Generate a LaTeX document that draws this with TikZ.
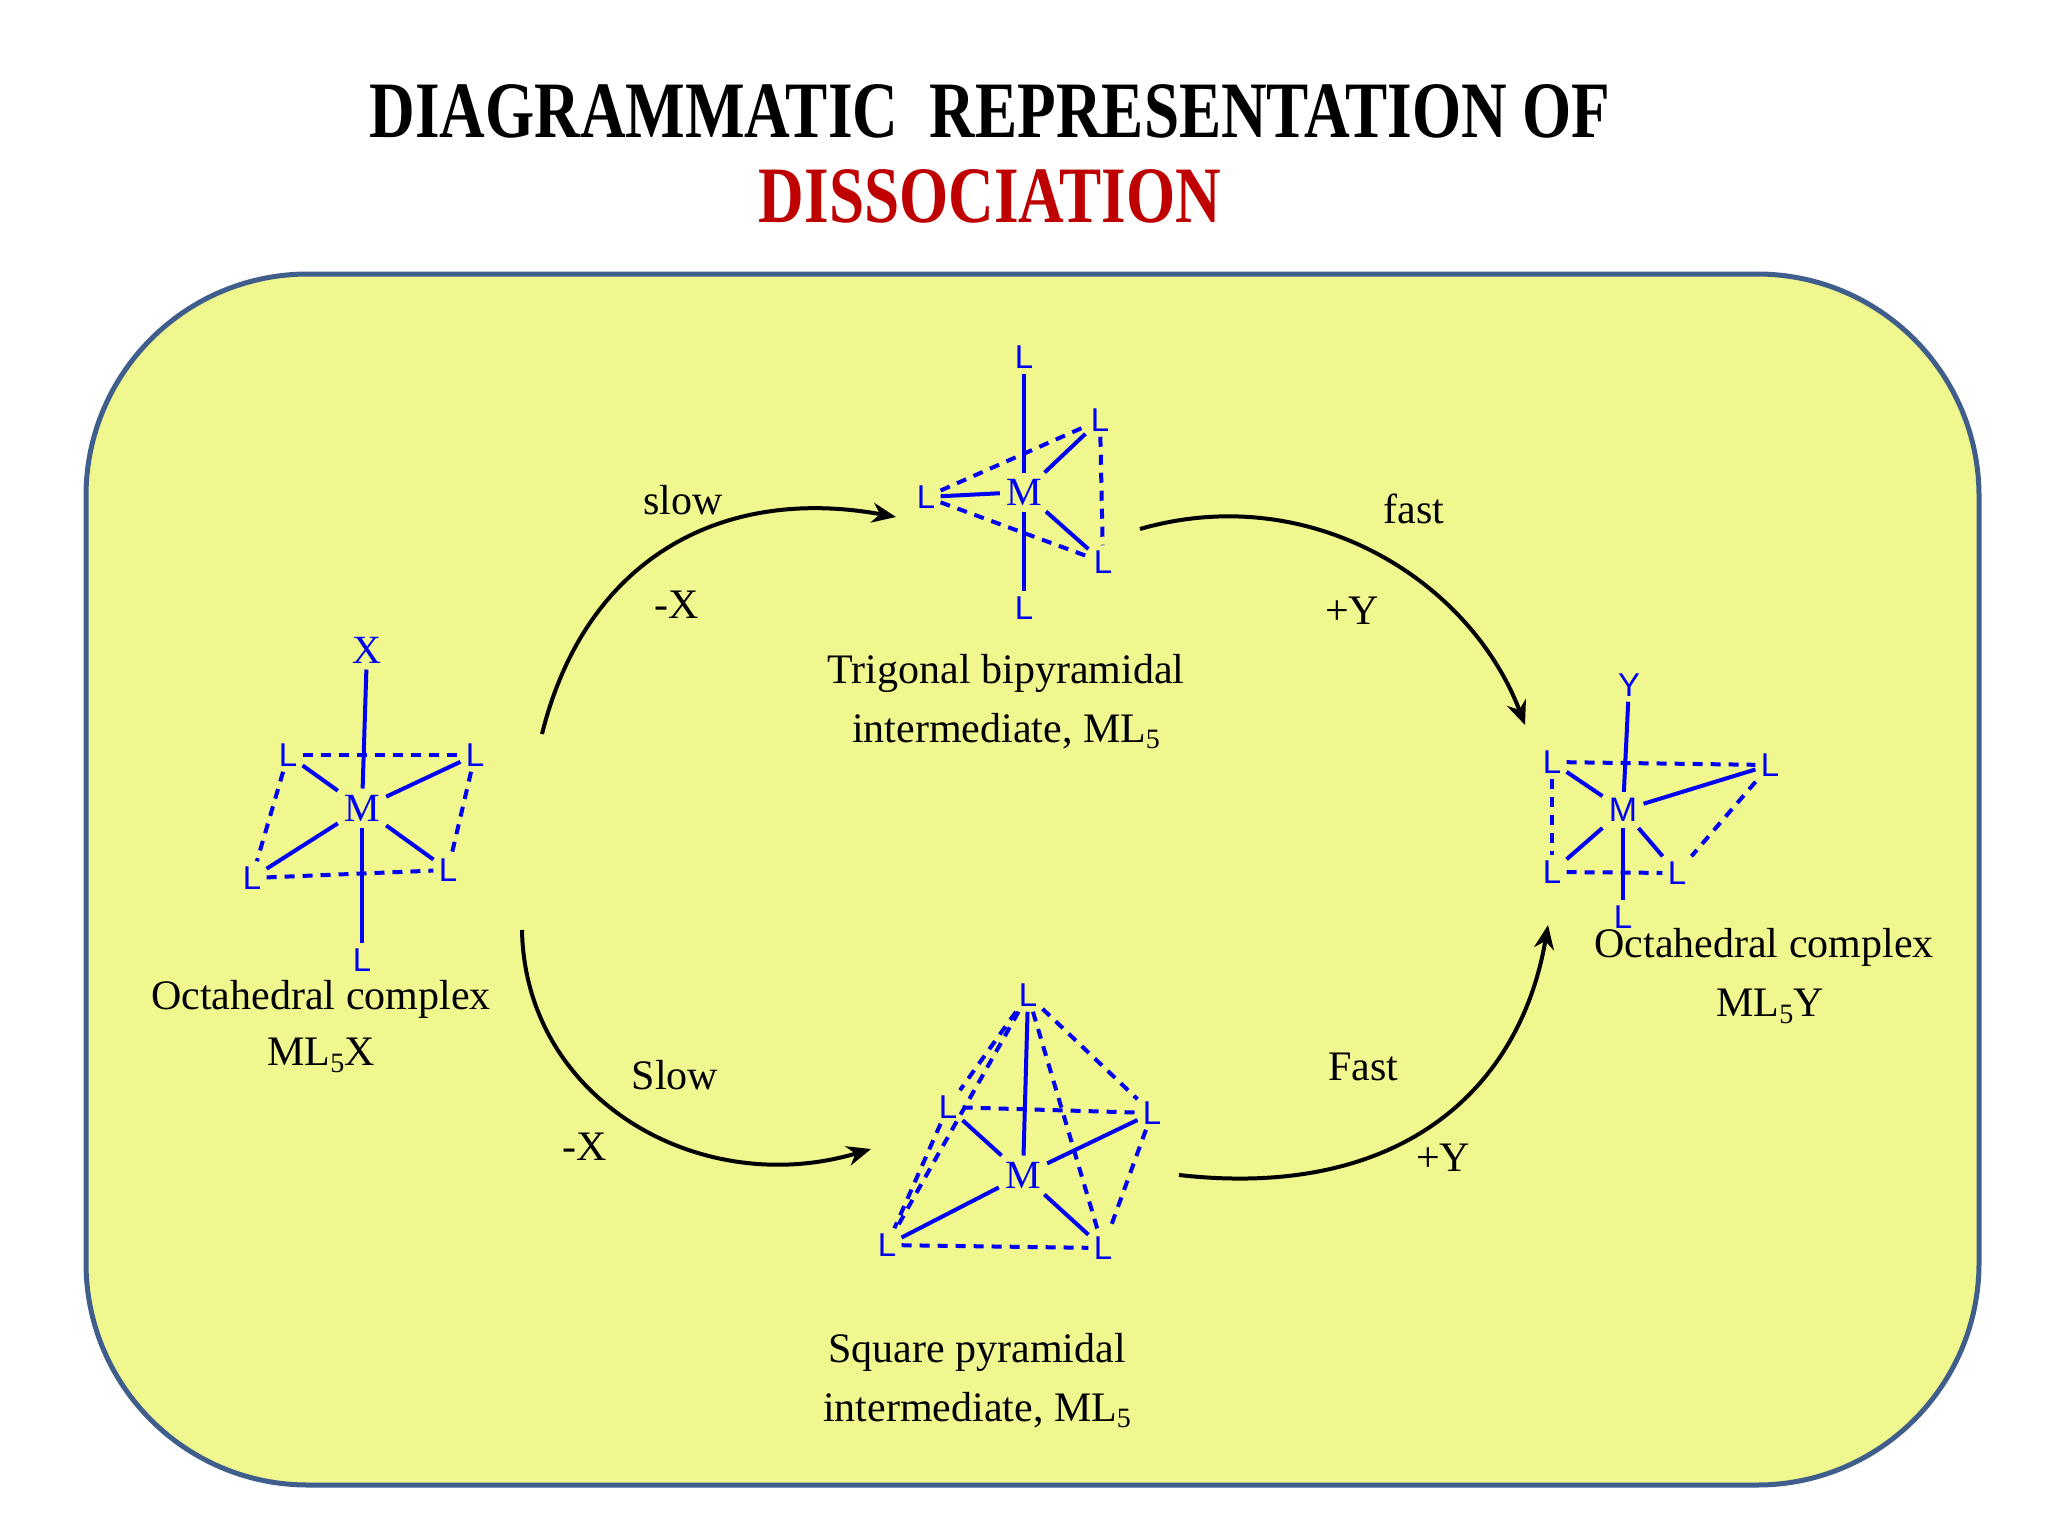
\documentclass[tikz,border=0pt]{standalone}
\usepackage{fontspec}
\setmainfont{Liberation Serif}
\setsansfont{Liberation Sans}
\usetikzlibrary{arrows.meta}
\definecolor{boxfill}{rgb}{0.94,0.97,0.56}
\definecolor{boxline}{rgb}{0.25,0.37,0.55}
\definecolor{mol}{rgb}{0,0,0.95}
\definecolor{titlered}{rgb}{0.75,0,0}
\tikzset{
 L/.style={font=\sffamily\fontsize{16.5}{16.5}\selectfont, text=mol, inner sep=2.5pt},
 Ms/.style={font=\fontsize{20}{20}\selectfont, text=mol, inner sep=3pt},
 Mss/.style={font=\sffamily\fontsize{17}{17}\selectfont, text=mol, inner sep=3pt},
 b/.style={draw=mol, line width=2pt},
 d/.style={draw=mol, line width=2pt, dash pattern=on 5pt off 4pt},
 lab/.style={font=\fontsize{21}{21}\selectfont, inner sep=0pt},
 arr/.style={draw=black, line width=2pt, -{Stealth[length=12pt,width=10pt]}},
}
\newcommand{\sbs}[1]{\raisebox{-0.35ex}{\fontsize{14}{14}\selectfont #1}}
\begin{document}
\begin{tikzpicture}[x=0.5pt,y=-0.5pt]
\useasboundingbox (0,0) rectangle (2048,1536);
\fill[white] (0,0) rectangle (2048,1536);
\draw[boxline, line width=2.5pt, fill=boxfill, rounded corners=111pt] (86,274) rectangle (1979,1485);
\node[font=\bfseries\fontsize{40}{40}\selectfont] (t1) at (990,111) {\scalebox{0.79}[1]{DIAGRAMMATIC\ \ REPRESENTATION OF}};
\node[font=\bfseries\fontsize{40}{40}\selectfont, text=titlered] (t2) at (990,196) {\scalebox{0.79}[1]{DISSOCIATION}};
% left octahedral
\node[Ms] (aM) at (362,808) {M};
\node[Ms] (aX) at (367,650) {X};
\node[L] (a1) at (288,755) {L};
\node[L] (a2) at (475,755) {L};
\node[L] (a3) at (252,878) {L};
\node[L] (a4) at (448,870) {L};
\node[L] (a5) at (362,960) {L};
\draw[b] (aX) -- (aM); \draw[b] (aM) -- (a5);
\draw[b] (aM) -- (a1); \draw[b] (aM) -- (a2); \draw[b] (aM) -- (a3); \draw[b] (aM) -- (a4);
\draw[d] (a1) -- (a2); \draw[d] (a1) -- (a3); \draw[d] (a2) -- (a4); \draw[d] (a3) -- (a4);
% trigonal bipyramid
\node[Ms] (bM) at (1024,492) {M};
\node[L] (b1) at (1024,357) {L};
\node[L] (b2) at (1100,420) {L};
\node[L] (b3) at (926,497) {L};
\node[L] (b4) at (1103,562) {L};
\node[L] (b5) at (1024,608) {L};
\draw[b] (bM) -- (b1); \draw[b] (bM) -- (b5); \draw[b] (bM) -- (b2); \draw[b] (bM) -- (b3); \draw[b] (bM) -- (b4);
\draw[d] (b3) -- (b2); \draw[d] (b3) -- (b4); \draw[d] (b2) -- (b4);
% square pyramid
\node[Ms] (cM) at (1023,1175) {M};
\node[L] (c1) at (1028,995) {L};
\node[L] (c2) at (948,1107) {L};
\node[L] (c3) at (1152,1113) {L};
\node[L] (c4) at (887,1245) {L};
\node[L] (c5) at (1103,1248) {L};
\draw[b] (cM) -- (c1); \draw[b] (cM) -- (c2); \draw[b] (cM) -- (c3); \draw[b] (cM) -- (c4); \draw[b] (cM) -- (c5);
\draw[d] (c1) -- (c3); \draw[d] (c1) -- (c5); \draw[d] (c1) -- (c2); \draw[d] (c1) -- (c4);
\draw[d] (c2) -- (c4); \draw[d] (c2) -- (c3); \draw[d] (c3) -- (c5); \draw[d] (c4) -- (c5);
% right octahedral
\node[Mss] (dM) at (1623,810) {M};
\node[L] (dY) at (1629,685) {Y};
\node[L] (d1) at (1552,762) {L};
\node[L] (d2) at (1770,765) {L};
\node[L] (d3) at (1552,872) {L};
\node[L] (d4) at (1677,873) {L};
\node[L] (d5) at (1623,917) {L};
\draw[b] (dY) -- (dM); \draw[b] (dM) -- (d5);
\draw[b] (dM) -- (d1); \draw[b] (dM) -- (d2); \draw[b] (dM) -- (d3); \draw[b] (dM) -- (d4);
\draw[d] (d1) -- (d2); \draw[d] (d1) -- (d3); \draw[d] (d3) -- (d4); \draw[d] (d2) -- (d4);
% labels
\node[lab] (l1) at (321,999) {Octahedral complex};
\node[lab] (l2) at (321,1055) {ML\sbs{5}X};
\node[lab] (l3) at (1006,673) {Trigonal bipyramidal};
\node[lab] (l4) at (1006,731) {intermediate, ML\sbs{5}};
\node[lab] (l5) at (977,1352) {Square pyramidal};
\node[lab] (l6) at (977,1410) {intermediate, ML\sbs{5}};
\node[lab] (l7) at (1764,947) {Octahedral complex};
\node[lab] (l8) at (1770,1006) {ML\sbs{5}Y};
\node[lab] (s1) at (683,500) {slow};
\node[lab] (s2) at (677,605) {-X};
\node[lab] (s3) at (1414,509) {fast};
\node[lab] (s4) at (1352,611) {+Y};
\node[lab] (s5) at (675,1075) {Slow};
\node[lab] (s6) at (585,1147) {-X};
\node[lab] (s7) at (1363,1067) {Fast};
\node[lab] (s8) at (1443,1158) {+Y};
% arrows
\coordinate (p1) at (542,734); \coordinate (q1) at (896,517);
\coordinate (p2) at (1140,529); \coordinate (q2) at (1525,725);
\coordinate (p3) at (522,930); \coordinate (q3) at (871,1149);
\coordinate (p4) at (1179,1175); \coordinate (q4) at (1548,925);
\draw[arr] (p1) .. controls (585,560) and (720,485) .. (q1);
\draw[arr] (p2) .. controls (1310,480) and (1470,580) .. (q2);
\draw[arr] (p3) .. controls (525,1100) and (700,1200) .. (q3);
\draw[arr] (p4) .. controls (1400,1200) and (1520,1090) .. (q4);
\end{tikzpicture}
\end{document}
